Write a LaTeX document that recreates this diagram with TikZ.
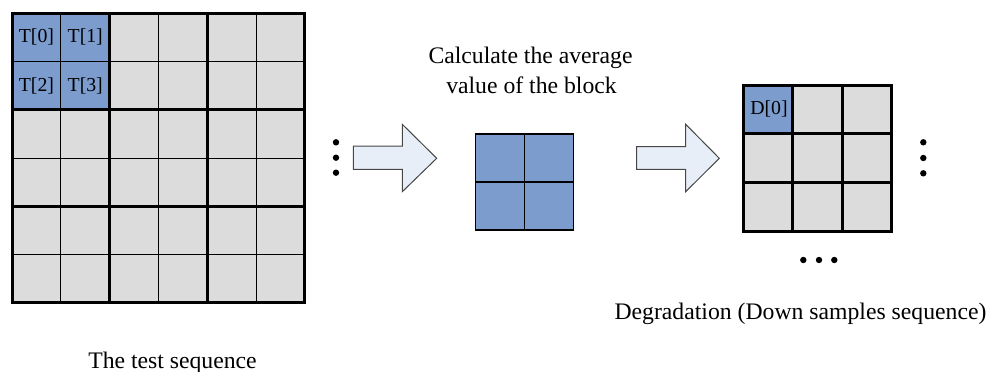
\documentclass[tikz,border=0pt]{standalone}
\usepackage{fontspec}
\setmainfont{Liberation Serif}
\definecolor{cellblue}{RGB}{124,156,206}
\definecolor{cellgray}{RGB}{220,220,220}
\definecolor{arrowfill}{RGB}{232,238,248}
\definecolor{arrowline}{RGB}{70,70,70}
\tikzset{
  thinline/.style={line width=1pt, black},
  thickline/.style={line width=3pt, black, line cap=rect},
  midline/.style={line width=1.3pt, black},
  lbl/.style={font=\fontsize{19.8}{22}\selectfont, inner sep=0pt},
  caption/.style={font=\fontsize{23.7}{28}\selectfont, inner sep=0pt, anchor=base},
  dotmark/.style={circle, fill=black, inner sep=0pt, minimum size=6.4pt},
  blockarrow/.style={fill=arrowfill, draw=arrowline, line width=1pt, line join=miter}
}
\begin{document}
\begin{tikzpicture}[x=1pt,y=-1pt]
\useasboundingbox (0,0) rectangle (999,372);

% ---- left grid (6x6)
\begin{scope}[shift={(12,13.3)}, x=48.83pt, y=-48.28pt]
  \fill[cellgray] (0,0) rectangle (6,6);
  \fill[cellblue] (0,0) rectangle (2,2);
  \foreach \i in {1,3,5} {
    \draw[thinline] (\i,0) -- (\i,6);
    \draw[thinline] (0,\i) -- (6,\i);
  }
  \foreach \i in {2,4} {
    \draw[thickline] (\i,0) -- (\i,6);
    \draw[thickline] (0,\i) -- (6,\i);
  }
  \draw[line width=3pt, line join=miter] (0,0) rectangle (6,6);
  \node[lbl] (t0) at (0.5,0.5) {T[0]};
  \node[lbl] (t1) at (1.5,0.5) {T[1]};
  \node[lbl] (t2) at (0.5,1.5) {T[2]};
  \node[lbl] (t3) at (1.5,1.5) {T[3]};
\end{scope}

% ---- left dots
\node[dotmark] (ld1) at (336,142.3) {};
\node[dotmark] (ld2) at (336,157.7) {};
\node[dotmark] (ld3) at (336,172.7) {};

% ---- arrow 1
\draw[blockarrow] (353.3,146) -- (402.3,146) -- (402.3,124.3) -- (436.7,158.3)
  -- (402.3,191.7) -- (402.3,169.3) -- (353.3,169.3) -- cycle;

% ---- middle block (2x2)
\begin{scope}[shift={(475.7,134)}, x=48.8pt, y=-48pt]
  \fill[cellblue] (0,0) rectangle (2,2);
  \draw[midline] (1,0) -- (1,2);
  \draw[midline] (0,1) -- (2,1);
  \draw[midline, line join=miter] (0,0) rectangle (2,2);
\end{scope}

% ---- caption of middle
\node[caption] (calc1) at (530.5,63.3) {Calculate the average};
\node[caption] (calc2) at (531.5,93.3) {value of the block};

% ---- arrow 2
\draw[blockarrow] (636.7,146.7) -- (685.7,146.7) -- (685.7,124.3) -- (719.3,158.3)
  -- (685.7,191.7) -- (685.7,169.3) -- (636.7,169.3) -- cycle;

% ---- right grid (3x3)
\begin{scope}[shift={(743.3,85)}, x=49.47pt, y=-48.67pt]
  \fill[cellgray] (0,0) rectangle (3,3);
  \fill[cellblue] (0,0) rectangle (1,1);
  \foreach \i in {1,2} {
    \draw[thickline] (\i,0) -- (\i,3);
    \draw[thickline] (0,\i) -- (3,\i);
  }
  \draw[line width=3pt, line join=miter] (0,0) rectangle (3,3);
  \node[lbl] (d0) at (0.52,0.5) {D[0]};
\end{scope}

% ---- right dots
\node[dotmark] (rd1) at (923.3,142.3) {};
\node[dotmark] (rd2) at (923.3,158) {};
\node[dotmark] (rd3) at (923.3,173.3) {};
\node[dotmark] (bd1) at (803.3,260) {};
\node[dotmark] (bd2) at (819,260) {};
\node[dotmark] (bd3) at (834.3,260) {};

% ---- captions
\node[caption] (deg) at (800.5,319.3) {Degradation (Down samples sequence)};
\node[caption] (test) at (172.5,368.3) {The test sequence};
\end{tikzpicture}
\end{document}
